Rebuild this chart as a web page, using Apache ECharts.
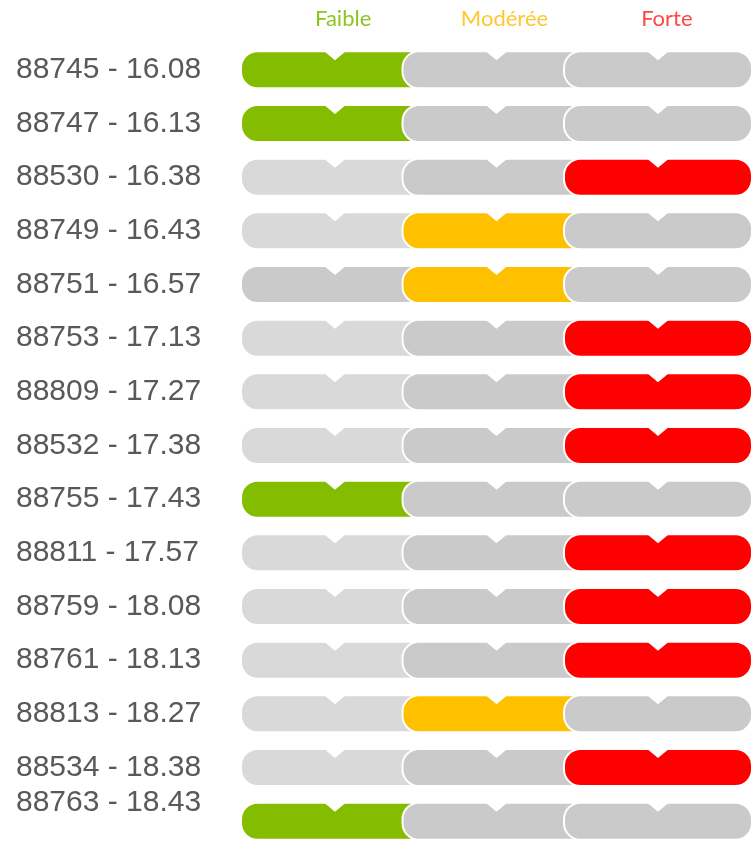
<!DOCTYPE html>
<html>
<head>
<meta charset="utf-8">
<script src="https://cdn.jsdelivr.net/npm/echarts@6/dist/echarts.min.js"></script>
<style>
  html, body { margin: 0; padding: 0; background: #fff; }
  #chart { width: 752px; height: 848px; }
</style>
</head>
<body>
<div id="chart"></div>
<script>
// rows (top to bottom) and which level is lit: 0 = Faible, 1 = Modérée, 2 = Forte
var rows = ['88745 - 16.08', '88747 - 16.13', '88530 - 16.38', '88749 - 16.43', '88751 - 16.57',
  '88753 - 17.13', '88809 - 17.27', '88532 - 17.38', '88755 - 17.43', '88811 - 17.57',
  '88759 - 18.08', '88761 - 18.13', '88813 - 18.27', '88534 - 18.38', '88763 - 18.43'];
var levels = [0, 0, 2, 1, 1, 2, 2, 2, 0, 2, 2, 2, 1, 2, 0];
var levelNames = ['Faible', 'Modérée', 'Forte'];
var levelColors = ['#84bd00', '#ffc000', '#ff0000'];
// row whose first segment uses the darker grey
var darkFirst = ['88751 - 16.57'];

var SEG_LEN = 1.164; // segments overlap a bit

var chart = echarts.init(document.getElementById('chart'));

function renderItem(params, api) {
  var lvl = api.value(0);
  var row = api.value(1);
  var cy = api.coord([0, row])[1];
  var h = api.size([0, 1])[1] * 0.69;
  var t = cy - h / 2;
  var nw = 12, nd = 9;
  var children = [];
  for (var k = 0; k < 3; k++) {
    var x0 = api.coord([k, row])[0];
    var x1 = api.coord([k + SEG_LEN, row])[0];
    var nc = (x0 + x1) / 2;
    var fill;
    if (k === lvl) fill = levelColors[k];
    else if (k === 0 && darkFirst.indexOf(rows[row]) < 0) fill = '#d9d9d9';
    else fill = '#cacaca';
    children.push({
      type: 'rect',
      shape: { x: x0, y: t, width: x1 - x0, height: h, r: h / 2 - 2 },
      style: { fill: fill, stroke: '#fff', lineWidth: 2 }
    });
    // little V notch on top
    children.push({
      type: 'polygon',
      shape: { points: [[nc - nw, t - 1], [nc + nw, t - 1], [nc, t + nd]] },
      style: { fill: '#fff' }
    });
  }
  return { type: 'group', children: children };
}

chart.setOption({
  animation: false,
  grid: { left: 241, right: 0, top: 43, bottom: -8 },
  xAxis: [{
    type: 'value', min: 0, max: 3 + SEG_LEN - 1,
    show: false
  }, {
    type: 'category', position: 'top', data: levelNames,
    axisLine: { show: false }, axisTick: { show: false }, splitLine: { show: false },
    axisLabel: {
      margin: 13,
      formatter: function (v, i) { return '{l' + i + '|' + v + '}'; },
      rich: {
        l0: { color: '#8cc420', fontSize: 22, fontFamily: 'Lato', padding: [0, 0, 0, 34] },
        l1: { color: '#ffc72e', fontSize: 22, fontFamily: 'Lato', padding: [0, 0, 0, 16] },
        l2: { color: '#ff4646', fontSize: 22, fontFamily: 'Lato' }
      }
    }
  }],
  yAxis: {
    type: 'category', inverse: true, data: rows,
    axisLine: { show: false }, axisTick: { show: false }, splitLine: { show: false },
    axisLabel: {
      align: 'left', margin: 225,
      formatter: function (v, i) {
        return i === rows.length - 1 ? '{up|' + v + '}' : '{n|' + v + '}';
      },
      rich: {
        n: { fontSize: 30, color: '#595959', fontFamily: 'Liberation Sans' },
        up: { fontSize: 30, color: '#595959', fontFamily: 'Liberation Sans', padding: [0, 0, 36, 0] }
      }
    }
  },
  series: [{
    type: 'custom',
    renderItem: renderItem,
    encode: { x: 0, y: 1 },
    data: rows.map(function (r, i) { return [levels[i], i]; })
  }]
});
</script>
</body>
</html>
